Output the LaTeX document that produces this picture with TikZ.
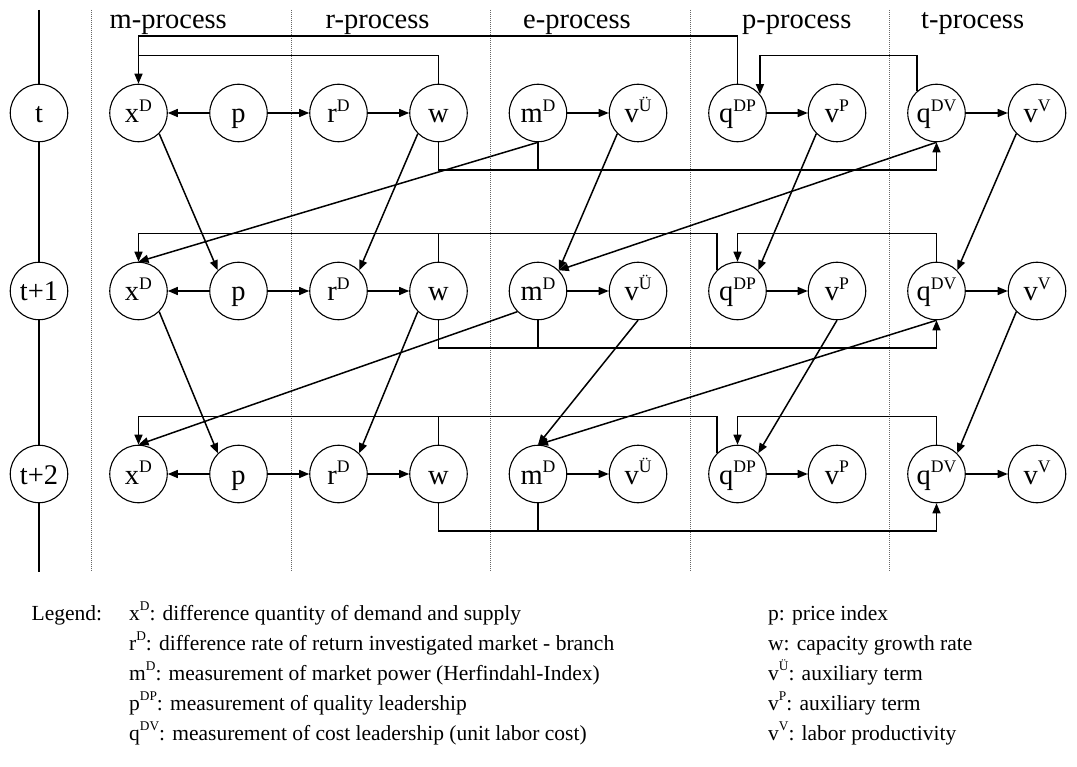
\documentclass[tikz,border=0pt]{standalone}
\usepackage{fontspec}
\usepackage{graphicx}
\setmainfont{Liberation Serif}
\usetikzlibrary{arrows.meta}
\newcommand{\hsup}[1]{\raisebox{0.42em}{\scalebox{0.62}{#1}}}
\begin{document}
\begin{tikzpicture}[x=1pt,y=-1pt,
  var/.style={circle,draw,line width=1.1pt,minimum size=57.5pt,inner sep=0pt,
    font=\fontsize{28.5}{30}\selectfont,text height=22pt,text depth=2pt},
  arr/.style={line width=1.5pt,-{Triangle[length=10pt,width=8pt]}},
  ln/.style={line width=1.5pt},
  tl/.style={line width=1.1pt},
  sep/.style={line width=0.6pt,black!60,dash pattern=on 1pt off 1pt},
  head/.style={font=\fontsize{28.5}{30}\selectfont,anchor=base west,inner sep=0pt},
  leg/.style={font=\fontsize{21.5}{24}\selectfont,anchor=base west,inner sep=0pt}]
\useasboundingbox (0,0) rectangle (1077,767);

% separators
\foreach \xx in {91.3,291,490.7,690.5,889}
  \draw[sep] (\xx,10) -- (\xx,572);

% headers
\node[head] (hm) at (109.5,28.5) {m-process};
\node[head] (hr) at (325.4,28.5) {r-process};
\node[head] (he) at (523,28.5) {e-process};
\node[head] (hp) at (742,28.5) {p-process};
\node[head] (ht) at (921,28.5) {t-process};

% nodes and in-row arrows
\foreach \r/\y/\lab in {1/113/t,2/291/t+1,3/474/t+2}{
  \node[var] (t\r) at (39,\y) {\lab};
  \node[var] (x\r) at (138.5,\y) {x\hsup{D}};
  \node[var] (p\r) at (238.5,\y) {p};
  \node[var] (r\r) at (338.5,\y) {r\hsup{D}};
  \node[var] (w\r) at (438.5,\y) {w};
  \node[var] (m\r) at (538,\y) {m\hsup{D}};
  \node[var] (u\r) at (638,\y) {v\hsup{Ü}};
  \node[var] (qp\r) at (737.5,\y) {q\hsup{DP}};
  \node[var] (vp\r) at (837,\y) {v\hsup{P}};
  \node[var] (qv\r) at (936.5,\y) {q\hsup{DV}};
  \node[var] (vv\r) at (1037,\y) {v\hsup{V}};
  \coordinate (b\r) at (0,\y+57);
  \coordinate (top\r) at (0,\y-57.5);
  \draw[arr] (p\r) -- (x\r);
  \draw[arr] (p\r) -- (r\r);
  \draw[arr] (r\r) -- (w\r);
  \draw[arr] (m\r) -- (u\r);
  \draw[arr] (qp\r) -- (vp\r);
  \draw[arr] (qv\r) -- (vv\r);
  % bottom connector w, mD -> qDV
  \draw[arr] (w\r.south) -- (w\r.south |- b\r) -| (qv\r.south);
  \draw[ln] (m\r.south) -- (m\r.south |- b\r);
}

% timeline
\coordinate (tltop) at (39,10);
\coordinate (tlbot) at (39,572);
\draw[tl] (tltop) -- (t1) -- (t2) -- (t3) -- (tlbot);

% feedback lines row 1
\coordinate (hi1) at (0,36);
\draw[arr] (qp1.north) -- (qp1.north |- hi1) -| (x1.north);
\draw[ln] (w1.north) |- (x1.north |- top1);
\draw[arr] (qv1.132) -- (qv1.132 |- top1) -| (qp1.40);

% feedback lines rows 2,3
\foreach \r in {2,3}{
  \draw[arr] (qp\r.135) -- (qp\r.135 |- top\r) -| (x\r.north);
  \draw[ln] (w\r.north) -- (w\r.north |- top\r);
  \draw[arr] (qv\r.north) -- (qv\r.north |- top\r) -| (qp\r.north);
}

% between rows t -> t+1
\draw[arr] (x1.south east) -- (p2.north west);
\draw[arr] (w1.south west) -- (r2.north east);
\draw[arr] (m1.south) -- (x2.north);
\draw[arr] (u1.south west) -- (m2.north east);
\draw[arr] (qv1.south) -- (m2.north east);
\draw[arr] (vp1.south west) -- (qp2.north east);
\draw[arr] (vv1.south west) -- (qv2.north east);
% between rows t+1 -> t+2
\draw[arr] (x2.south east) -- (p3.north west);
\draw[arr] (w2.south west) -- (r3.north east);
\draw[arr] (m2.south west) -- (x3.north);
\draw[arr] (u2.south) -- (m3.north);
\draw[arr] (qv2.south) -- (m3.north);
\draw[arr] (vp2.south) -- (qp3.north east);
\draw[arr] (vv2.south west) -- (qv3.north east);

% legend
\node[leg] (lg) at (31.5,620) {Legend:};
\node[leg] (la) at (129,620) {x\hsup{D}: difference quantity of demand and supply};
\node[leg] (lb) at (129,650) {r\hsup{D}: difference rate of return investigated market - branch};
\node[leg] (lc) at (129,680) {m\hsup{D}: measurement of market power (Herfindahl-Index)};
\node[leg] (ld) at (129,710) {p\hsup{DP}: measurement of quality leadership};
\node[leg] (le) at (129,740) {q\hsup{DV}: measurement of cost leadership (unit labor cost)};
\node[leg] (ra) at (768,620) {p: price index};
\node[leg] (rb) at (768,650) {w: capacity growth rate};
\node[leg] (rc) at (768,680) {v\hsup{Ü}: auxiliary term};
\node[leg] (rd) at (768,710) {v\hsup{P}: auxiliary term};
\node[leg] (re) at (768,740) {v\hsup{V}: labor productivity};
\end{tikzpicture}
\end{document}
